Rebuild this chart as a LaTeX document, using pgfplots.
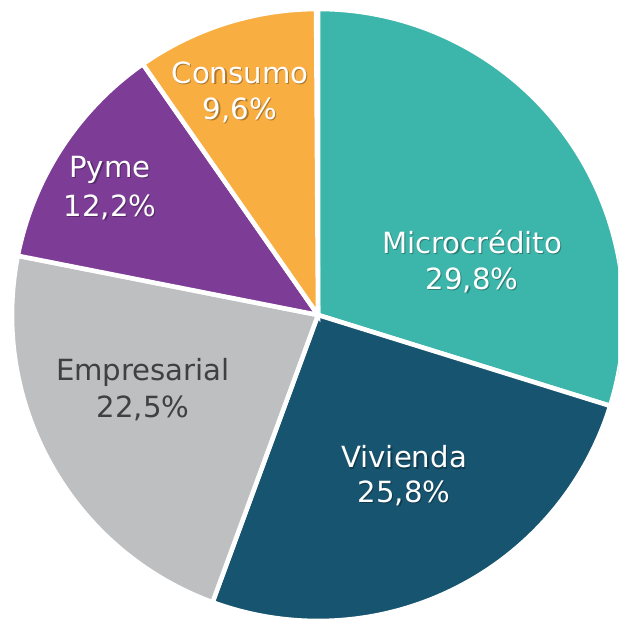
\documentclass[border=0pt]{standalone}
\usepackage{fontspec}
\setmainfont{DejaVu Sans}
\usepackage{pgfplots}
\pgfplotsset{compat=1.18}
\definecolor{cMicro}{HTML}{3CB5AA}
\definecolor{cViv}{HTML}{17546F}
\definecolor{cEmp}{HTML}{BEBFC1}
\definecolor{cPyme}{HTML}{7D3C96}
\definecolor{cCons}{HTML}{F9AE42}
\definecolor{cText}{HTML}{404040}
\newcommand{\lab}[4]{%
  \node[text=black, opacity=0.3, font=\fontsize{8.3}{9}\selectfont] at ([xshift=0.35pt,yshift=-0.35pt]axis cs:#1,#2) {#4};
  \node[text=#3, font=\fontsize{8.3}{9}\selectfont] at (axis cs:#1,#2) {#4};}
\begin{document}
\begin{tikzpicture}
\begin{axis}[hide axis, scale only axis, width=6.18cm, height=6.20cm,
  xmin=0, xmax=618, ymin=0, ymax=620, clip=true]
\addplot[draw=none] coordinates {(0,0) (618,620)};
\pgfplotsextra{
  \foreach \v/\c [evaluate=\v as \e using \s-3.6*\v, remember=\e as \s (initially 90)] in
    {29.8/cMicro, 25.8/cViv, 22.5/cEmp, 12.2/cPyme, 9.6/cCons}{
    \fill[\c, draw=white, line width=1.3pt] (axis cs:318,305) -- ++(\s:3.06cm)
      arc[start angle=\s, end angle=\e, radius=3.06cm] -- cycle;
  }
}
\lab{472}{378}{white}{Microcrédito}
\lab{472}{340}{white}{29,8\%}
\lab{404}{163}{white}{Vivienda}
\lab{404}{127}{white}{25,8\%}
\node[text=cText, font=\fontsize{8.3}{9}\selectfont] at (axis cs:143,248) {Empresarial};
\node[text=cText, font=\fontsize{8.3}{9}\selectfont] at (axis cs:143,212) {22,5\%};
\lab{110}{450}{white}{Pyme}
\lab{110}{413}{white}{12,2\%}
\lab{240}{547}{white}{Consumo}
\lab{240}{510}{white}{9,6\%}
\end{axis}
\pgfresetboundingbox
\useasboundingbox (current axis.south west) rectangle (current axis.north east);
\end{tikzpicture}
\end{document}
